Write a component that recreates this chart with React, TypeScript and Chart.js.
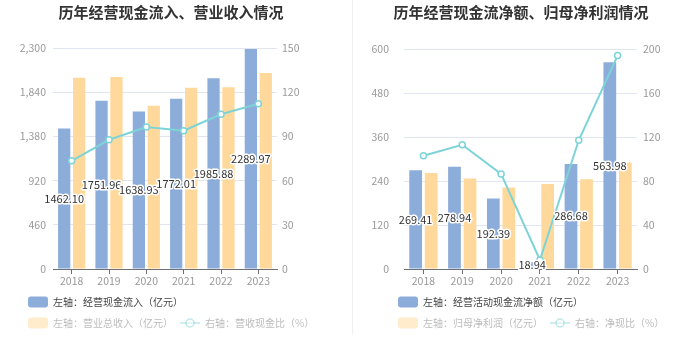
import React, { useEffect, useRef } from 'react';
import { Chart, registerables } from 'chart.js';

Chart.register(...registerables);

const FONT = '"Noto Sans CJK SC", "Noto Sans", sans-serif';

// ---- data ----
const years = ['2018', '2019', '2020', '2021', '2022', '2023'];

const cashInflow = [1462.1, 1751.96, 1638.93, 1772.01, 1985.88, 2289.97];
const totalRevenue = [1991, 1998, 1700, 1887, 1891, 2040];
const cashRevenueRatio = [73.4, 87.7, 96.4, 93.9, 105.0, 112.2];

const netOperatingCash = [269.41, 278.94, 192.39, 18.94, 286.68, 563.98];
const netProfit = [261.8, 247.0, 222.6, 231.8, 245.0, 290.7];
const cashProfitRatio = [102.9, 112.9, 86.4, 8.2, 117.0, 194.0];

const leftTitle = '历年经营现金流入、营业收入情况';
const rightTitle = '历年经营现金流净额、归母净利润情况';

const leftLabels = ['左轴：经营现金流入（亿元）', '左轴：营业总收入（亿元）', '右轴：营收现金比（%）'];
const rightLabels = ['左轴：经营活动现金流净额（亿元）', '左轴：归母净利润（亿元）', '右轴：净现比（%）'];

const leftAxisL = { max: 2300, step: 460 };
const leftAxisR = { max: 150, step: 30 };
const rightAxisL = { max: 600, step: 120 };
const rightAxisR = { max: 200, step: 40 };

// ---- styles ----
const BLUE = '#8CACDA';
const ORANGE = '#FFD99B';
const CYAN = '#7DD4D8';

const overlayPlugin = {
  id: 'overlay',
  afterDatasetsDraw(chart: any) {
    const ctx = chart.ctx;
    const meta = chart.getDatasetMeta(0);
    const data = chart.data.datasets[0].data;
    ctx.save();
    ctx.font = `11px ${FONT}`;
    ctx.textAlign = 'center';
    ctx.textBaseline = 'middle';
    ctx.lineJoin = 'round';
    meta.data.forEach((el: any, i: number) => {
      const txt = Number(data[i]).toFixed(2);
      const y = (el.y + el.base) / 2;
      ctx.strokeStyle = '#ffffff';
      ctx.lineWidth = 3;
      ctx.strokeText(txt, el.x, y);
      ctx.fillStyle = '#333333';
      ctx.fillText(txt, el.x, y);
    });
    ctx.restore();
  },
  afterDraw(chart: any) {
    const o = chart.options.plugins.overlay;
    const ctx = chart.ctx;
    ctx.save();
    // title
    ctx.font = `bold 15px ${FONT}`;
    ctx.fillStyle = '#333333';
    ctx.textAlign = 'center';
    ctx.textBaseline = 'middle';
    ctx.fillText(o.title, o.titleX, o.titleY);
    // legend
    ctx.font = `10px ${FONT}`;
    ctx.textAlign = 'left';
    o.legend.forEach((item: any) => {
      const ds = chart.data.datasets[item.i];
      ctx.globalAlpha = item.faded ? 0.5 : 1;
      const y = item.y;
      if (ds.type === 'line') {
        ctx.strokeStyle = ds.borderColor;
        ctx.lineWidth = 1.5;
        ctx.beginPath();
        ctx.moveTo(item.x, y);
        ctx.lineTo(item.x + 20, y);
        ctx.stroke();
        ctx.beginPath();
        ctx.arc(item.x + 10, y, 4, 0, Math.PI * 2);
        ctx.fillStyle = '#ffffff';
        ctx.fill();
        ctx.stroke();
      } else {
        ctx.fillStyle = ds.backgroundColor;
        ctx.beginPath();
        (ctx as any).roundRect(item.x, y - 5.5, 20, 11, 3);
        ctx.fill();
      }
      ctx.fillStyle = item.faded ? '#777777' : '#444444';
      ctx.textBaseline = 'middle';
      ctx.fillText(ds.label, item.x + 25, y + 0.5);
    });
    ctx.restore();
  },
};

function buildConfig(opts: any) {
  const tickFont = { size: 10.5, family: FONT };
  return {
    type: 'bar',
    data: {
      labels: years,
      datasets: [
        {
          type: 'bar',
          label: opts.labels[0],
          data: opts.bars1,
          backgroundColor: BLUE,
          yAxisID: 'y',
          categoryPercentage: 0.8,
          barPercentage: 0.82,
        },
        {
          type: 'bar',
          label: opts.labels[1],
          data: opts.bars2,
          backgroundColor: ORANGE,
          yAxisID: 'y',
          categoryPercentage: 0.8,
          barPercentage: 0.82,
        },
        {
          type: 'line',
          label: opts.labels[2],
          data: opts.line,
          borderColor: CYAN,
          backgroundColor: '#ffffff',
          borderWidth: 2,
          pointRadius: 3,
          pointBorderWidth: 1.5,
          pointBackgroundColor: '#ffffff',
          pointBorderColor: CYAN,
          yAxisID: 'y1',
          order: -1,
          tension: 0,
        },
      ],
    },
    options: {
      responsive: false,
      animation: false,
      devicePixelRatio: 1,
      layout: { padding: opts.padding },
      plugins: {
        legend: { display: false },
        tooltip: { enabled: false },
        title: { display: false },
        overlay: {
          title: opts.title,
          titleX: 171,
          titleY: 12,
          legend: [
            { i: 0, x: opts.legendX[0], y: 302, faded: false },
            { i: 1, x: opts.legendX[0], y: 323, faded: true },
            { i: 2, x: opts.legendX[1], y: 323, faded: true },
          ],
        },
      },
      scales: {
        x: {
          grid: { offset: false, drawOnChartArea: false, drawTicks: true, tickLength: 5, color: '#6E7079' },
          border: { display: true, color: '#6E7079' },
          ticks: { color: '#999999', font: tickFont, padding: 1, maxRotation: 0 },
          afterFit(s: any) { s.height = 20; },
        },
        y: {
          position: 'left',
          min: 0,
          max: opts.axisL.max,
          grid: { color: '#E0E6F1', drawTicks: false },
          border: { display: false },
          ticks: { stepSize: opts.axisL.step, color: '#999999', font: tickFont, padding: opts.leftPad },
          afterFit(s: any) { s.width = opts.leftWidth; },
        },
        y1: {
          position: 'right',
          min: 0,
          max: opts.axisR.max,
          grid: { display: false, drawTicks: false },
          border: { display: false },
          ticks: { stepSize: opts.axisR.step, color: '#999999', font: tickFont, padding: opts.rightPad },
          afterFit(s: any) { s.width = 40; },
        },
      },
    },
    plugins: [overlayPlugin],
  };
}

function ChartCanvas({ opts }: { opts: any }) {
  const ref = useRef<HTMLCanvasElement | null>(null);
  useEffect(() => {
    if (!ref.current) return;
    const chart = new Chart(ref.current, buildConfig(opts) as any);
    return () => chart.destroy();
  }, []);
  return <canvas ref={ref} width={350} height={360} style={{ display: 'block', width: 350, height: 360 }} />;
}

const leftOpts = {
  title: leftTitle,
  labels: leftLabels,
  bars1: cashInflow,
  bars2: totalRevenue,
  line: cashRevenueRatio,
  axisL: leftAxisL,
  axisR: leftAxisR,
  padding: { top: 48, bottom: 71, left: 0, right: 33 },
  leftWidth: 53,
  leftPad: 7,
  rightPad: 5,
  legendX: [28, 180],
};

const rightOpts = {
  title: rightTitle,
  labels: rightLabels,
  bars1: netOperatingCash,
  bars2: netProfit,
  line: cashProfitRatio,
  axisL: rightAxisL,
  axisR: rightAxisR,
  padding: { top: 49, bottom: 71, left: 0, right: 23 },
  leftWidth: 54,
  leftPad: 15,
  rightPad: 6,
  legendX: [48, 200],
};

export default function App() {
  return (
    <div style={{ position: 'absolute', left: 0, top: 0, width: 700, height: 360, background: '#ffffff', overflow: 'hidden' }}>
      <div style={{ position: 'absolute', left: 0, top: 0 }}>
        <ChartCanvas opts={leftOpts} />
      </div>
      <div style={{ position: 'absolute', left: 352, top: 0, width: 1, height: 335, background: '#f0f0f0' }} />
      <div style={{ position: 'absolute', left: 350, top: 0 }}>
        <ChartCanvas opts={rightOpts} />
      </div>
    </div>
  );
}
